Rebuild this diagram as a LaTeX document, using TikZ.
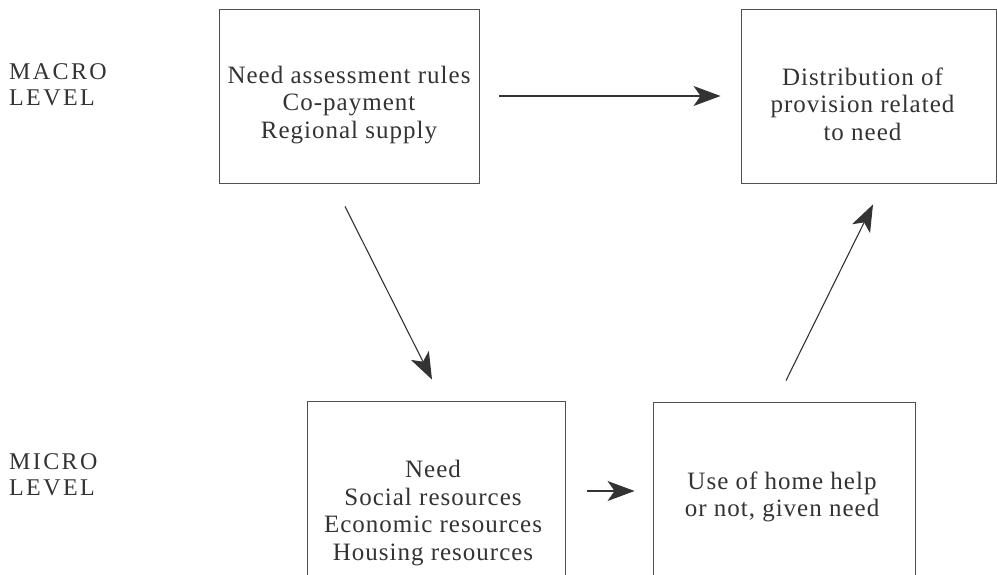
\documentclass[tikz,border=0pt]{standalone}
\usepackage{fontspec}
\setmainfont{Liberation Serif}[LetterSpace=4]
\newfontfamily\lvlfont{Liberation Serif}[LetterSpace=10]
\usetikzlibrary{arrows.meta}
\definecolor{ink}{HTML}{333333}
\definecolor{frame}{HTML}{505050}
\tikzset{
  box/.style={draw=frame, line width=0.9pt, rectangle, inner sep=0pt},
  boxtext/.style={text=ink, align=center, inner sep=0pt,
    font=\fontsize{25}{27.5}\selectfont},
  lvl/.style={text=ink, align=left, anchor=north west, inner sep=0pt,
    font=\lvlfont\fontsize{24}{26}\selectfont},
  conn/.style={draw=ink, line width=1.1pt,
    -{Stealth[length=27pt,width=20pt,inset=7pt]}}
}
\begin{document}
\begin{tikzpicture}[x=1pt,y=-1pt]
  \useasboundingbox (0,0) rectangle (997,575);
  % level labels
  \node[lvl] (macro) at (9,63) {MACRO\\LEVEL};
  \node[lvl] (micro) at (9,453) {MICRO\\LEVEL};
  % macro boxes
  \node[box, minimum width=260pt, minimum height=174pt,
    label={[boxtext, yshift=-9pt]center:{Need assessment rules\\Co-payment\\Regional supply}}]
    (rules) at (349,96) {};
  \node[box, minimum width=255pt, minimum height=174pt,
    label={[boxtext, yshift=-8pt, xshift=-6pt]center:{Distribution of\\provision related\\to need}}]
    (dist) at (868.5,96) {};
  % micro boxes (running past the lower edge)
  \node[box, minimum width=258pt, minimum height=176pt,
    label={[boxtext, yshift=-24pt, xshift=-3pt]center:{Need\\Social resources\\Economic resources\\Housing resources}}]
    (need) at (436,489) {};
  \node[box, minimum width=262pt, minimum height=176pt,
    label={[boxtext, yshift=-7pt, xshift=-2pt]center:{Use of home help\\or not, given need}}]
    (use) at (784,490) {};
  % connectors
  \draw[conn, shorten <=20pt, shorten >=20pt] (rules.east) -- (dist.west);
  \draw[conn] ([xshift=-4pt,yshift=-23pt]rules.south) -- ([xshift=-4pt,yshift=21pt]need.north);
  \draw[conn] ([xshift=2pt,yshift=21pt]use.north) -- ([xshift=4.5pt,yshift=-21pt]dist.south);
  \draw[conn, shorten <=22pt, shorten >=18pt] ([yshift=-2pt]need.east) -- ([yshift=-1pt]use.west);
\end{tikzpicture}
\end{document}
